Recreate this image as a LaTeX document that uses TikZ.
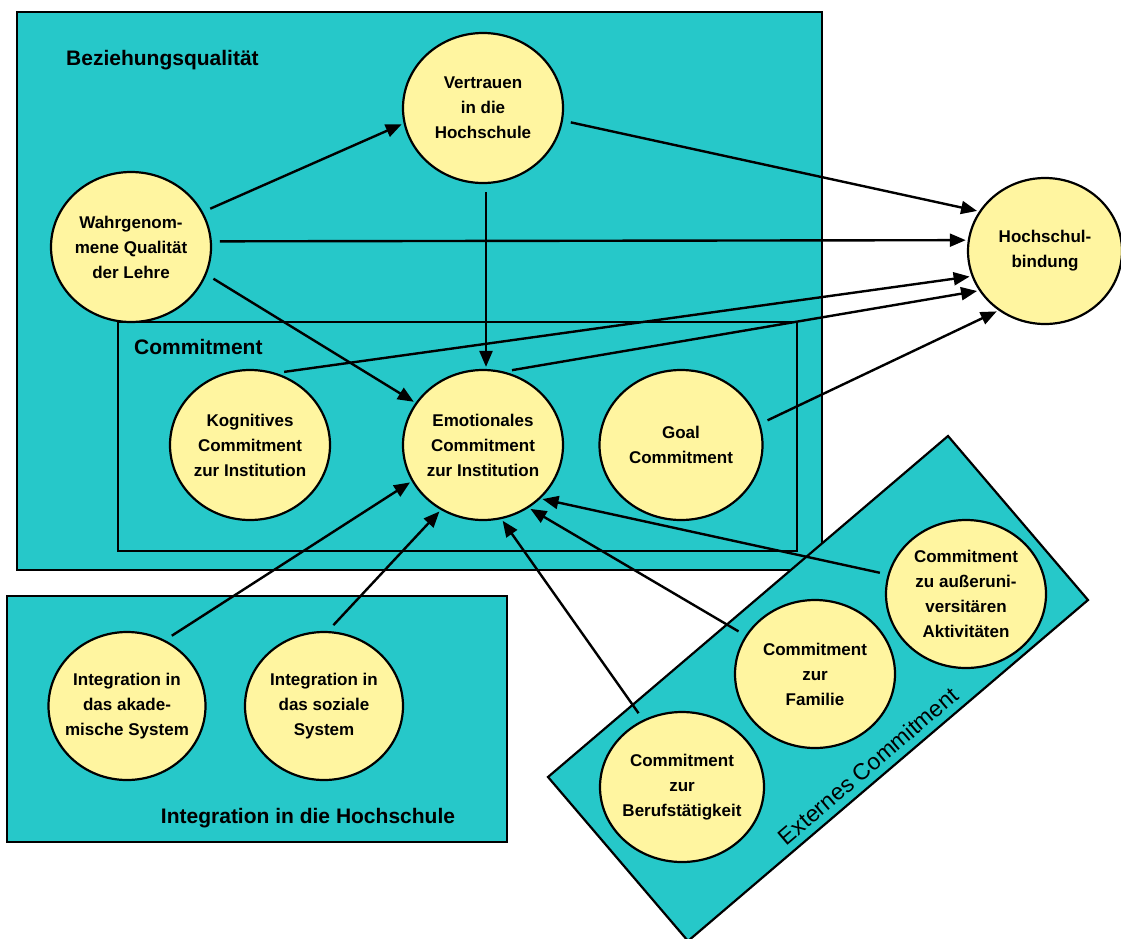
\documentclass[tikz,border=0pt]{standalone}
\usepackage{fontspec}
\setmainfont{Liberation Sans}
\usetikzlibrary{arrows.meta,shapes.geometric}
\definecolor{tealbg}{RGB}{38,200,201}
\definecolor{ylw}{RGB}{255,245,160}
\begin{document}
\begin{tikzpicture}[x=1pt,y=-1pt,
  box/.style={draw=black,line width=2.2pt,fill=tealbg},
  circ/.style={ellipse,draw=black,line width=2.2pt,fill=ylw,minimum width=160pt,minimum height=150pt,
    inner xsep=-12pt,inner ysep=0pt,align=center,font=\fontsize{17}{25}\selectfont\bfseries},
  arr/.style={-{Triangle[length=16pt,width=13pt]},line width=2.4pt,shorten <=8pt,shorten >=2pt},
  lbl/.style={font=\fontsize{21}{25}\selectfont\bfseries,inner sep=0pt}]
\useasboundingbox (0,0) rectangle (1121,938);
\fill[white] (0,0) rectangle (1121,938);
% boxes
\draw[box] (17,12) rectangle (822,570);
\draw[box] (118,322) rectangle (797,551);
\draw[box] (7,596) rectangle (507,842);
\draw[box] (948,436) -- (1088,600) -- (688,941) -- (548,777) -- cycle;
% labels
\node[lbl,anchor=west] (lBQ) at (66,60) {Beziehungsqualität};
\node[lbl,anchor=west] (lCO) at (134,347) {Commitment};
\node[lbl] (lIH) at (308,818) {Integration in die Hochschule};
\node[font=\fontsize{23}{25}\selectfont,inner sep=0pt,rotate=40.45] (lEX) at (868,766) {Externes Commitment};
% nodes
\node[circ] (W) at (131,247) {Wahrgenom-\\mene Qualität\\der Lehre};
\node[circ] (V) at (483,108) {Vertrauen\\in die\\Hochschule};
\node[circ,minimum width=154pt,minimum height=146pt] (H) at (1045,251) {Hochschul-\\bindung};
\node[circ] (K) at (250,445) {Kognitives\\Commitment\\zur Institution};
\node[circ] (E) at (483,445) {Emotionales\\Commitment\\zur Institution};
\node[circ,minimum width=163pt] (G) at (681,445) {Goal\\Commitment};
\node[circ,minimum width=157pt,minimum height=148pt] (IA) at (127,706) {Integration in\\das akade-\\mische System};
\node[circ,minimum width=158pt,minimum height=148pt] (IS) at (324,706) {Integration in\\das soziale\\System};
\node[circ,minimum width=164pt] (B) at (682,787) {Commitment\\zur\\Berufstätigkeit};
\node[circ,minimum height=148pt] (F) at (815,674) {Commitment\\zur\\Familie};
\node[circ,minimum height=148pt] (A) at (966,594) {Commitment\\zu außeruni-\\versitären\\Aktivitäten};
% connectors
\draw[arr] (W.26.8) -- (V.191);
\draw[arr] (V.-9.5) -- (H.149);
\draw[arr] (W.4.9) -- (H.172);
\draw[arr] (W.-20.3) -- (E.148.6);
\draw[arr] ([xshift=3pt]V.south) -- ([xshift=3pt]E.north);
\draw[arr] (K.70.2) -- (H.199.1);
\draw[arr] (E.74.2) -- (H.211.1);
\draw[arr] (G.15.4) -- (H.232.2);
\draw[arr] (IA.60.5) -- (E.207.1);
\draw[arr] (IS.87) -- (E.237);
\draw[arr] (B.120.7) -- (E.284.7);
\draw[arr] (F.151.8) -- (E.-54.5);
\draw[arr] (A.166.7) -- (E.-43.8);
\end{tikzpicture}
\end{document}
